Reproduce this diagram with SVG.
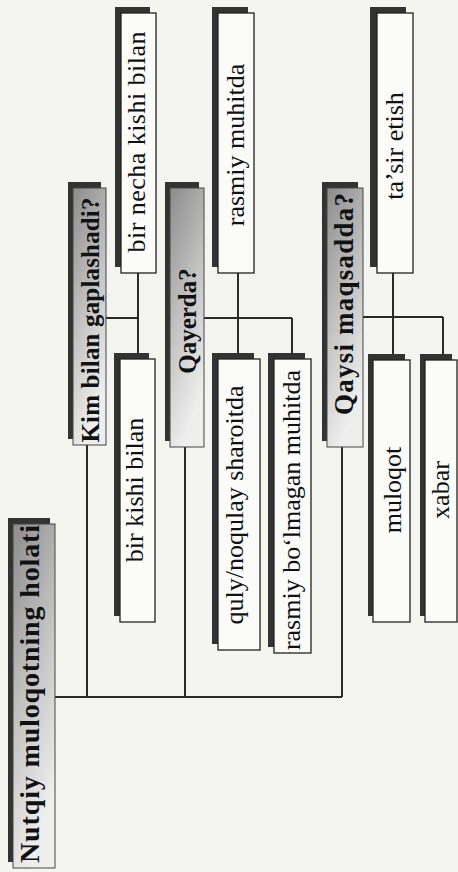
<svg xmlns="http://www.w3.org/2000/svg" width="458" height="872" viewBox="0 0 458 872">
<defs>
<linearGradient id="hg" x1="0" y1="0" x2="0.35" y2="1">
<stop offset="0" stop-color="#8c8c8c"/>
<stop offset="0.55" stop-color="#c4c4c4"/>
<stop offset="1" stop-color="#eeeeee"/>
</linearGradient>
<style>
.bg{fill:#f4f4f1}
.sh{fill:#333333}
.bx{fill:#fbfbf9;stroke:#222222;stroke-width:1.3}
.hb{fill:url(#hg);stroke:#444444;stroke-width:1}
.ln{stroke:#2a2a2a;stroke-width:2;fill:none}
.ct{font-family:"Liberation Serif","Times New Roman",serif;font-size:26px;fill:#111111}
.ht{font-family:"Liberation Serif","Times New Roman",serif;font-size:26px;font-weight:bold;fill:#111111}
</style>
</defs>
<rect class="bg" x="0" y="0" width="458" height="872"/>
<g id="connectors">
<path class="ln" d="M55 697 H342 M87 697 V445 M185 697 V447 M342 697 V447"/>
<path class="ln" d="M106 318 H138 M138 273 V353"/>
<path class="ln" d="M204 318 H292 M238 273 V353 M292 318 V353"/>
<path class="ln" d="M363 317 H443 M393 273 V354 M443 317 V354"/>
</g>
<g id="root">
<rect class="sh" x="8" y="518" width="42" height="344"/>
<rect class="hb" x="13" y="524" width="42" height="344"/>
<text class="ht" style="font-size:28px" transform="translate(39,694) rotate(-90)" text-anchor="middle" textLength="338" lengthAdjust="spacing">Nutqiy muloqotning holati</text>
</g>
<g id="kim">
<rect class="sh" x="68" y="182" width="33" height="257"/>
<rect class="hb" x="73" y="188" width="33" height="257"/>
<text class="ht" style="font-size:25px" transform="translate(99,320) rotate(-90)" text-anchor="middle" textLength="245" lengthAdjust="spacing">Kim bilan gaplashadi?</text>
</g>
<g id="qayerda">
<rect class="sh" x="165" y="182" width="34" height="259"/>
<rect class="hb" x="170" y="188" width="34" height="259"/>
<text class="ht" style="font-size:25px" transform="translate(196,321) rotate(-90)" text-anchor="middle">Qayerda?</text>
</g>
<g id="qaysi">
<rect class="sh" x="322" y="182" width="36" height="259"/>
<rect class="hb" x="327" y="188" width="36" height="259"/>
<text class="ht" style="font-size:27px" transform="translate(353,304) rotate(-90)" text-anchor="middle" textLength="222" lengthAdjust="spacing">Qaysi maqsadda?</text>
</g>
<g id="bir-necha">
<rect class="sh" x="115" y="7" width="35" height="260"/>
<rect class="bx" x="121" y="13" width="35" height="260"/>
<text class="ct" transform="translate(145,142) rotate(-90)" text-anchor="middle" textLength="221" lengthAdjust="spacing">bir necha kishi bilan</text>
</g>
<g id="bir-kishi">
<rect class="sh" x="114" y="353" width="35" height="263"/>
<rect class="bx" x="120" y="359" width="35" height="263"/>
<text class="ct" transform="translate(143,490) rotate(-90)" text-anchor="middle">bir kishi bilan</text>
</g>
<g id="rasmiy">
<rect class="sh" x="212" y="7" width="36" height="260"/>
<rect class="bx" x="218" y="13" width="36" height="260"/>
<text class="ct" transform="translate(244,145) rotate(-90)" text-anchor="middle">rasmiy muhitda</text>
</g>
<g id="quly">
<rect class="sh" x="212" y="353" width="42" height="291"/>
<rect class="bx" x="218" y="359" width="42" height="291"/>
<text class="ct" transform="translate(243,505) rotate(-90)" text-anchor="middle">quly/noqulay sharoitda</text>
</g>
<g id="norasmiy">
<rect class="sh" x="268" y="353" width="37" height="294"/>
<rect class="bx" x="274" y="359" width="37" height="294"/>
<text class="ct" transform="translate(300,510) rotate(-90)" text-anchor="middle">rasmiy bo‘lmagan muhitda</text>
</g>
<g id="tasir">
<rect class="sh" x="370" y="7" width="36" height="260"/>
<rect class="bx" x="377" y="13" width="36" height="260"/>
<text class="ct" transform="translate(403,146) rotate(-90)" text-anchor="middle">ta’sir etish</text>
</g>
<g id="muloqot">
<rect class="sh" x="368" y="354" width="37" height="262"/>
<rect class="bx" x="373" y="360" width="37" height="262"/>
<text class="ct" transform="translate(401,490) rotate(-90)" text-anchor="middle">muloqot</text>
</g>
<g id="xabar">
<rect class="sh" x="420" y="354" width="32" height="262"/>
<rect class="bx" x="425" y="360" width="32" height="262"/>
<text class="ct" transform="translate(449,490) rotate(-90)" text-anchor="middle">xabar</text>
</g>
</svg>
